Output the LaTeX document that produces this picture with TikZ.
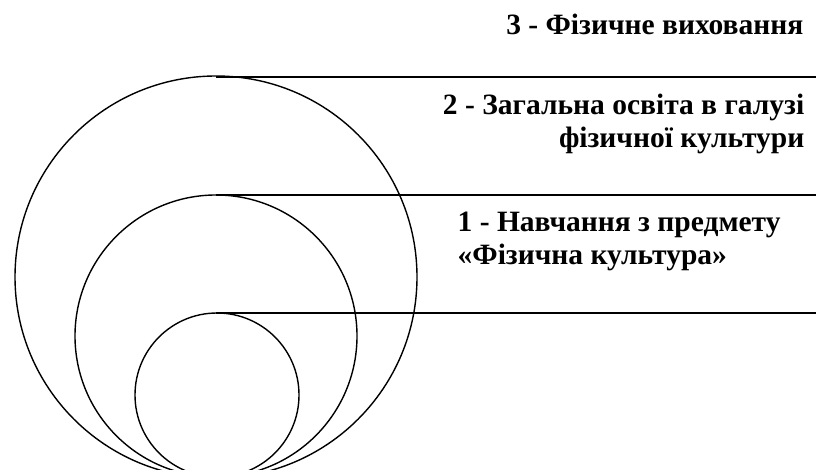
\documentclass[tikz,border=0pt]{standalone}
\usepackage{fontspec}
\setmainfont{Liberation Serif}
\begin{document}
\begin{tikzpicture}[x=1pt,y=-1pt,line width=1.4pt,
  lbl/.style={inner sep=0pt,font=\fontsize{29.5}{33.5}\selectfont\bfseries}]
\useasboundingbox (0,0) rectangle (816,470);
\begin{scope}
\clip (0,0) rectangle (816,470);
\draw (216,277) circle[radius=201];
\draw (216,336) circle[radius=141];
\draw (217,395) circle[radius=82];
\end{scope}
\coordinate (t3) at (216,77);
\coordinate (t2) at (216,195);
\coordinate (t1) at (216,313);
\coordinate (e3) at (816,77);
\coordinate (e2) at (816,195);
\coordinate (e1) at (816,313);
\draw (t3) -- (e3);
\draw (t2) -- (e2);
\draw (t1) -- (e1);
\node[lbl,anchor=base east] (l3) at (804,35) {3 - Фізичне виховання};
\node[lbl,anchor=base east,align=right] (l2) at (805,148) {2 - Загальна освіта в галузі\\фізичної культури};
\node[lbl,anchor=base west,align=left] (l1) at (457,265) {1 - Навчання з предмету\\«Фізична культура»};
\end{tikzpicture}
\end{document}
